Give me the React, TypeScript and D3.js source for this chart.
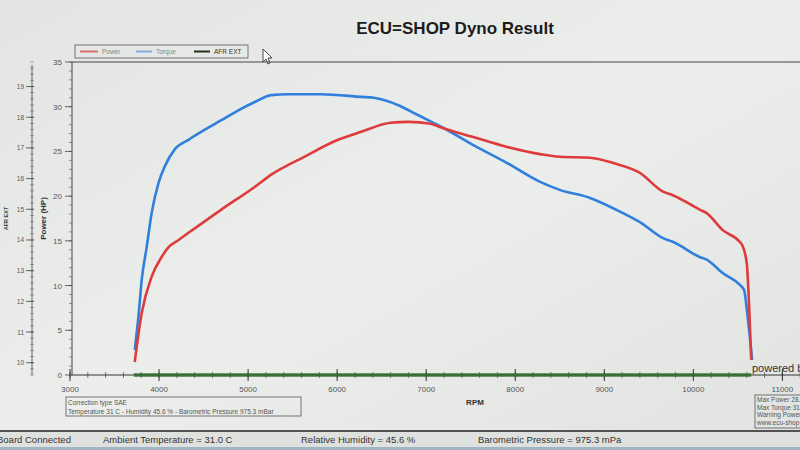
import * as d3 from "d3";

// Dyno run. Torque in Nm, drawn on the HP scale.
const powerRpm = [3727, 3805, 3917, 4029, 4107, 4219, 4331, 4700, 5070, 5260, 5630, 6010, 6270, 6600, 6800, 7050, 7160, 7530, 7910, 8280, 8500, 8840, 9100, 9400, 9660, 9770, 10070, 10150, 10330, 10520, 10550, 10600, 10630, 10650];
const powerHp = [1.45, 6.9, 11.0, 13.2, 14.3, 15.1, 15.9, 18.5, 21.0, 22.4, 24.4, 26.3, 27.2, 28.2, 28.3, 28.1, 27.7, 26.6, 25.5, 24.7, 24.4, 24.3, 23.7, 22.6, 20.5, 20.1, 18.5, 18.1, 16.2, 14.9, 14.5, 12.5, 6.9, 1.7];

const torqueRpm = [3727, 3772, 3805, 3861, 3917, 3995, 4063, 4174, 4331, 4510, 4700, 4890, 5070, 5260, 5450, 5820, 6270, 6410, 6680, 6900, 7160, 7530, 7910, 8280, 8500, 8840, 9210, 9400, 9660, 9770, 10070, 10150, 10330, 10520, 10570, 10610, 10660];
const torqueNm = [2.8, 6.9, 10.6, 14.3, 18.1, 21.5, 23.3, 25.2, 26.3, 27.4, 28.5, 29.6, 30.5, 31.3, 31.4, 31.4, 31.1, 31.0, 30.2, 29.1, 27.8, 25.7, 23.7, 21.6, 20.7, 19.8, 18.1, 17.1, 15.3, 14.9, 13.2, 12.9, 11.4, 10.1, 9.5, 6.5, 1.7];

const afrRpm = [3716, 5000, 7000, 9000, 10650];
const afrValue = [9.6, 9.6, 9.6, 9.6, 9.6];

const xLabels = [3000, 4000, 5000, 6000, 7000, 8000, 9000, 10000, 11000];
const powerLabels = [0, 5, 10, 15, 20, 25, 30, 35];
const afrLabels = [10, 11, 12, 13, 14, 15, 16, 17, 18, 19];

const statusItems = [
  { text: "Board Connected", at: 3350 },
  { text: "Ambient Temperature = 31.0 C", at: 3400 },
];

const FONT = "'Liberation Sans', Arial, sans-serif";
const RED = "#de3b3c";
const BLUE = "#2f7fdc";
const GREEN = "#2f6e2c";

export default function App() {
  const x = d3.scaleLinear().domain([3000, 11400]).range([70, 818]);
  const y = d3.scaleLinear().domain([0, 35]).range([375, 62]);
  const yAfr = d3.scaleLinear().domain([9.6, 19.8]).range([375, 62]);

  const line = d3
    .line<[number, number]>()
    .x((d) => x(d[0]))
    .y((d) => y(d[1]))
    .curve(d3.curveMonotoneX);
  const afrLine = d3
    .line<[number, number]>()
    .x((d) => x(d[0]))
    .y((d) => yAfr(d[1]));

  const power = powerRpm.map((r, i) => [r, powerHp[i]] as [number, number]);
  const torque = torqueRpm.map((r, i) => [r, torqueNm[i]] as [number, number]);
  const afr = afrRpm.map((r, i) => [r, afrValue[i]] as [number, number]);

  const xMinor = x.ticks(42).filter((t) => t <= 11200);
  const yMinor = y.ticks(35);
  const afrMinor = yAfr.ticks(50);

  const axX = x(3000) + 2;
  const afrX = 32;
  const baseY = y(0);

  return (
    <svg
      width={800}
      height={450}
      style={{ position: "absolute", left: 0, top: 0, display: "block" }}
      fontFamily={FONT}
    >
      <defs>
        <linearGradient id="bg" x1="0" y1="0" x2="1" y2="1">
          <stop offset="0" stopColor="#e2e5e3" />
          <stop offset="0.5" stopColor="#eceeec" />
          <stop offset="1" stopColor="#e1e3e1" />
        </linearGradient>
      </defs>
      <rect width={800} height={450} fill="url(#bg)" />

      <text x={455} y={34} textAnchor="middle" fontSize={17} fontWeight="bold" fill="#1c1c1c">
        ECU=SHOP Dyno Result
      </text>

      {/* legend */}
      <rect x={75} y={45} width={173} height={13} fill="none" stroke="#555" strokeWidth={0.8} />
      <line x1={80} x2={98} y1={51.5} y2={51.5} stroke={RED} strokeWidth={2} opacity={0.7} />
      <text x={102} y={54} fontSize={6.5} fill="#888">Power</text>
      <line x1={136} x2={152} y1={51.5} y2={51.5} stroke={BLUE} strokeWidth={2} opacity={0.55} />
      <text x={156} y={54} fontSize={6.5} fill="#888">Torque</text>
      <line x1={194} x2={210} y1={51.5} y2={51.5} stroke="#22301f" strokeWidth={2} />
      <text x={214} y={54} fontSize={6.5} fill="#333">AFR EXT</text>

      {/* cursor */}
      <path d="M263,49 L263,62 L266,59 L268,64 L270,63 L268,58 L272,58 Z" fill="#fff" stroke="#222" strokeWidth={0.8} />

      {/* plot frame */}
      <line x1={axX} x2={800} y1={y(35)} y2={y(35)} stroke="#444" strokeWidth={1} />
      <line x1={axX} x2={axX} y1={y(35)} y2={baseY} stroke="#444" strokeWidth={1} />

      {/* power axis */}
      {yMinor.map((t) => (
        <line key={`pm${t}`} x1={axX - 3} x2={axX} y1={y(t)} y2={y(t)} stroke="#555" strokeWidth={0.6} />
      ))}
      {powerLabels.map((t) => (
        <g key={`p${t}`}>
          <line x1={axX - 7} x2={axX} y1={y(t)} y2={y(t)} stroke="#444" strokeWidth={0.8} />
          <text x={axX - 10} y={y(t) + 3} textAnchor="end" fontSize={8} fill="#555">
            {t}
          </text>
        </g>
      ))}
      <text
        transform={`translate(46,${y(17.5)}) rotate(-90)`}
        textAnchor="middle"
        fontSize={8}
        fontWeight="bold"
        fill="#333"
      >
        Power (HP)
      </text>

      {/* AFR axis */}
      <line x1={afrX} x2={afrX} y1={yAfr(19.7)} y2={yAfr(9.6)} stroke="#444" strokeWidth={0.8} />
      {afrMinor.map((t) => (
        <line key={`am${t}`} x1={afrX - 2} x2={afrX + 2} y1={yAfr(t)} y2={yAfr(t)} stroke="#555" strokeWidth={0.5} />
      ))}
      {afrLabels.map((t) => (
        <g key={`a${t}`}>
          <line x1={afrX - 6} x2={afrX + 2} y1={yAfr(t)} y2={yAfr(t)} stroke="#444" strokeWidth={0.8} />
          <text x={afrX - 8} y={yAfr(t) + 2.5} textAnchor="end" fontSize={6.5} fill="#555">
            {t}
          </text>
        </g>
      ))}
      <text
        transform={`translate(8,${yAfr(14.7)}) rotate(-90)`}
        textAnchor="middle"
        fontSize={5.5}
        fontWeight="bold"
        fill="#444"
      >
        AFR EXT
      </text>

      {/* x axis */}
      <line x1={axX} x2={800} y1={baseY} y2={baseY} stroke="#333" strokeWidth={1} />
      {xMinor.map((t) => (
        <line key={`xm${t}`} x1={x(t)} x2={x(t)} y1={baseY - 3} y2={baseY + 3} stroke="#444" strokeWidth={0.7} />
      ))}
      {xLabels.map((t) => (
        <g key={`x${t}`}>
          <line x1={x(t)} x2={x(t)} y1={baseY - 6} y2={baseY + 6} stroke="#333" strokeWidth={1} />
          <text x={x(t)} y={baseY + 17} textAnchor="middle" fontSize={8} fill="#555">
            {t}
          </text>
        </g>
      ))}
      <text x={475} y={405} textAnchor="middle" fontSize={8} fontWeight="bold" fill="#333">
        RPM
      </text>

      {/* curves */}
      <path d={afrLine(afr) ?? ""} fill="none" stroke={GREEN} strokeWidth={3.5} opacity={0.9} />
      <path d={line(torque) ?? ""} fill="none" stroke={BLUE} strokeWidth={2.6} strokeLinejoin="round" />
      <path d={line(power) ?? ""} fill="none" stroke={RED} strokeWidth={2.6} strokeLinejoin="round" />

      <text x={752} y={372} fontSize={11} fill="#333">powered by</text>

      {/* correction box */}
      <rect x={66} y={397} width={235} height={19} fill="none" stroke="#555" strokeWidth={0.8} />
      <text x={68} y={405} fontSize={6.5} fill="#555">Correction type SAE</text>
      <text x={68} y={413.5} fontSize={6.5} fill="#555">
        Temperature 31 C - Humidity 45.6 % - Barometric Pressure 975.3 mBar
      </text>

      {/* summary box (cut by window edge) */}
      <rect x={755} y={395} width={60} height={33} fill="none" stroke="#555" strokeWidth={0.8} />
      <text x={757} y={402} fontSize={6.5} fill="#555">Max Power 28.3</text>
      <text x={757} y={409.5} fontSize={6.5} fill="#555">Max Torque 31.4</text>
      <text x={757} y={417} fontSize={6.5} fill="#555">Warning Power</text>
      <text x={757} y={424.5} fontSize={6.5} fill="#555">www.ecu-shop</text>

      {/* status bar */}
      <rect x={0} y={431} width={800} height={19} fill="#dfe1df" />
      <line x1={0} x2={800} y1={431} y2={431} stroke="#222" strokeWidth={1.5} />
      <rect x={0} y={447} width={800} height={3} fill="#9fb4c4" />
      <text x={-3} y={443} fontSize={9.5} fill="#333">Board Connected</text>
      <text x={103} y={443} fontSize={9.5} fill="#333">Ambient Temperature = 31.0 C</text>
      <text x={301} y={443} fontSize={9.5} fill="#333">Relative Humidity = 45.6 %</text>
      <text x={478} y={443} fontSize={9.5} fill="#333">Barometric Pressure = 975.3 mPa</text>
    </svg>
  );
}
